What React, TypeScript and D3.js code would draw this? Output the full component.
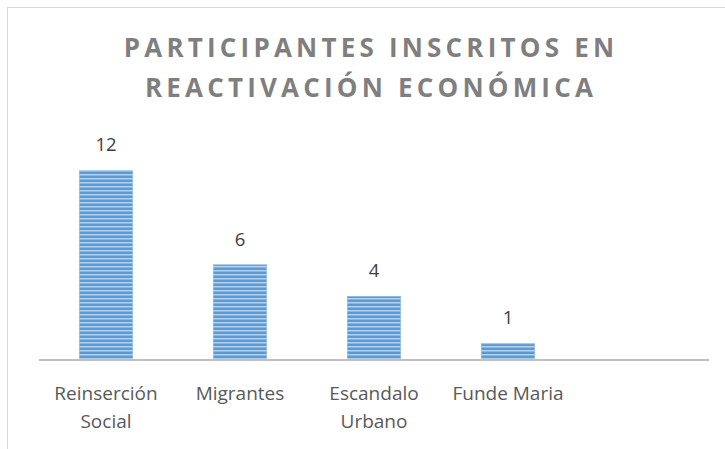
import React from "react";
import * as d3 from "d3";

const categories: string[][] = [["Reinserción", "Social"], ["Migrantes"], ["Escandalo", "Urbano"], ["Funde Maria"], []];
const categoryKeys = ["Reinserción Social", "Migrantes", "Escandalo Urbano", "Funde Maria", ""];
const values: (number | null)[] = [12, 6, 4, 1, null];
const titleLines = ["PARTICIPANTES INSCRITOS EN", "REACTIVACIÓN ECONÓMICA"];

export default function App() {
  const W = 725, H = 449;
  const x = d3.scaleBand<string>().domain(categoryKeys).range([39, 709]).paddingInner(0.597).paddingOuter(0.2985);
  const y = d3.scaleLinear().domain([0, 14]).range([359, 138.5]);
  const font = "'Open Sans', 'Liberation Sans', sans-serif";
  return (
    <svg width={W} height={H} style={{ position: "fixed", left: 0, top: 0, background: "#fff" }}>
      <defs>
        <pattern id="stripes" patternUnits="userSpaceOnUse" width={4} height={4}>
          <rect x={0} y={0} width={4} height={4} fill="#5b9bd5" />
          <rect x={0} y={2} width={4} height={1} fill="#b3d1ee" />
          <rect x={0} y={3} width={4} height={1} fill="#86b6e3" />
        </pattern>
      </defs>
      <rect x={7.5} y={7.5} width={800} height={600} fill="#fff" stroke="#d9d9d9" strokeWidth={1} />
      {titleLines.map((t, i) => (
        <text key={i} x={371} y={57 + i * 40} textAnchor="middle" fontFamily={font} fontWeight={700}
          fontSize={26} fill="#7f7f7f" letterSpacing={4.2}>{t}</text>
      ))}
      {values.map((v, i) => v == null ? null : (
        <g key={i}>
          <rect x={x(categoryKeys[i])!} y={y(v)} width={x.bandwidth()} height={y(0) - y(v)} fill="url(#stripes)" />
          <rect x={x(categoryKeys[i])! + 0.5} y={y(v) + 0.5} width={x.bandwidth() - 1} height={y(0) - y(v) - 1} fill="none" stroke="#a9cbea" strokeWidth={1} opacity={0.6} />
          <text x={x(categoryKeys[i])! + x.bandwidth() / 2} y={y(v) - 19} textAnchor="middle" fontFamily={font}
            fontSize={18.5} fill="#404040">{v}</text>
        </g>
      ))}
      <line x1={39} x2={709} y1={360} y2={360} stroke="#bfbfbf" strokeWidth={2} />
      {categories.map((lines, i) => lines.map((l, j) => (
        <text key={i + "-" + j} x={x(categoryKeys[i])! + x.bandwidth() / 2} y={400 + j * 28} textAnchor="middle"
          fontFamily={font} fontSize={19} fill="#595959">{l}</text>
      )))}
    </svg>
  );
}
